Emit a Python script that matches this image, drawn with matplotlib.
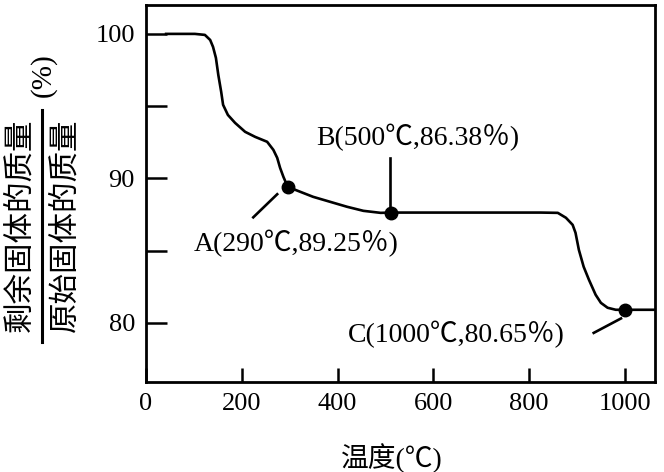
import numpy as np
import matplotlib
matplotlib.use("Agg")
import matplotlib.pyplot as plt

plt.rcParams['font.family'] = ['Liberation Serif', 'Noto Sans CJK SC']

# curve (temperature, remaining mass %)
temp = [42, 102, 123, 134, 140, 146, 151, 157, 161, 171, 186, 207, 228, 253, 266, 274,
        280, 287, 296, 322, 349, 385, 420, 454, 490, 512, 824, 860, 877, 891, 897,
        904, 914, 925, 939, 950, 964, 981, 1000, 1063]
mass = [100, 100, 99.93, 99.58, 99.10, 98.34, 97.16, 95.99, 95.09, 94.39, 93.84, 93.22,
        92.87, 92.53, 91.97, 91.42, 90.73, 90.10, 89.41, 89.07, 88.72, 88.37, 88.03,
        87.75, 87.61, 87.63, 87.63, 87.61, 87.27, 86.78, 86.23, 85.05, 83.88, 82.98,
        81.94, 81.38, 81.04, 80.90, 80.90, 80.90]

# marked points
pt_x = [296, 512, 1000]
pt_y = [89.41, 87.63, 80.90]
pt_labels = ['A(290℃,89.25％)', 'B(500℃,86.38％)', 'C(1000℃,80.65％)']
label_pos = [(314, 85.5), (567, 92.8), (649, 79.2)]
leaders = [((224, 274), (87.3, 88.9)), ((510, 510), (91.4, 87.8)), ((935, 992), (79.3, 80.3))]

xticks = [0, 200, 400, 600, 800, 1000]
yticks = [80, 90, 100]
yminor = [85, 95]

fig = plt.figure(figsize=(6.64, 4.72), dpi=100)
W, H = 664, 472
ax = fig.add_axes([146 / W, (H - 382) / H, (655 - 146) / W, (382 - 5) / H])

ax.plot(temp, mass, color='black', lw=1.9, solid_joinstyle='round')
ax.plot(pt_x, pt_y, 'o', color='black', ms=9)

for (lx, ly), s in zip(label_pos, pt_labels):
    ax.text(lx, ly, s, ha='center', va='center', fontsize=20)
for xs, ys in leaders:
    ax.plot(xs, ys, color='black', lw=1.9)

ax.set_xlim(0, 1063)
ax.set_ylim(75.9, 102.0)
ax.set_xticks(xticks)
ax.set_yticks(yticks)
ax.set_yticks(yminor, minor=True)
ax.tick_params(axis='both', which='both', direction='in', width=1.8, labelsize=19, pad=8)
ax.tick_params(axis='x', length=10)
ax.tick_params(axis='y', which='both', length=15)
for s in ax.spines.values():
    s.set_linewidth(2.0)

# x label
fig.text(392 / W, 1 - 458 / H, '温度(℃)', ha='center', va='center', fontsize=20)

# y label as a fraction, rotated
fig.text(21 / W, 1 - 225 / H, '剩余固体的质量', rotation=90, ha='center', va='center', fontsize=22)
fig.text(66 / W, 1 - 225 / H, '原始固体的质量', rotation=90, ha='center', va='center', fontsize=22)
fig.add_artist(plt.Line2D([42 / W, 42 / W], [1 - 110 / H, 1 - 342 / H], color='black', lw=2.2))
fig.text(43 / W, 1 - 75 / H, '(%)', rotation=90, ha='center', va='center', fontsize=21)

fig.savefig('out.png', dpi=100)
